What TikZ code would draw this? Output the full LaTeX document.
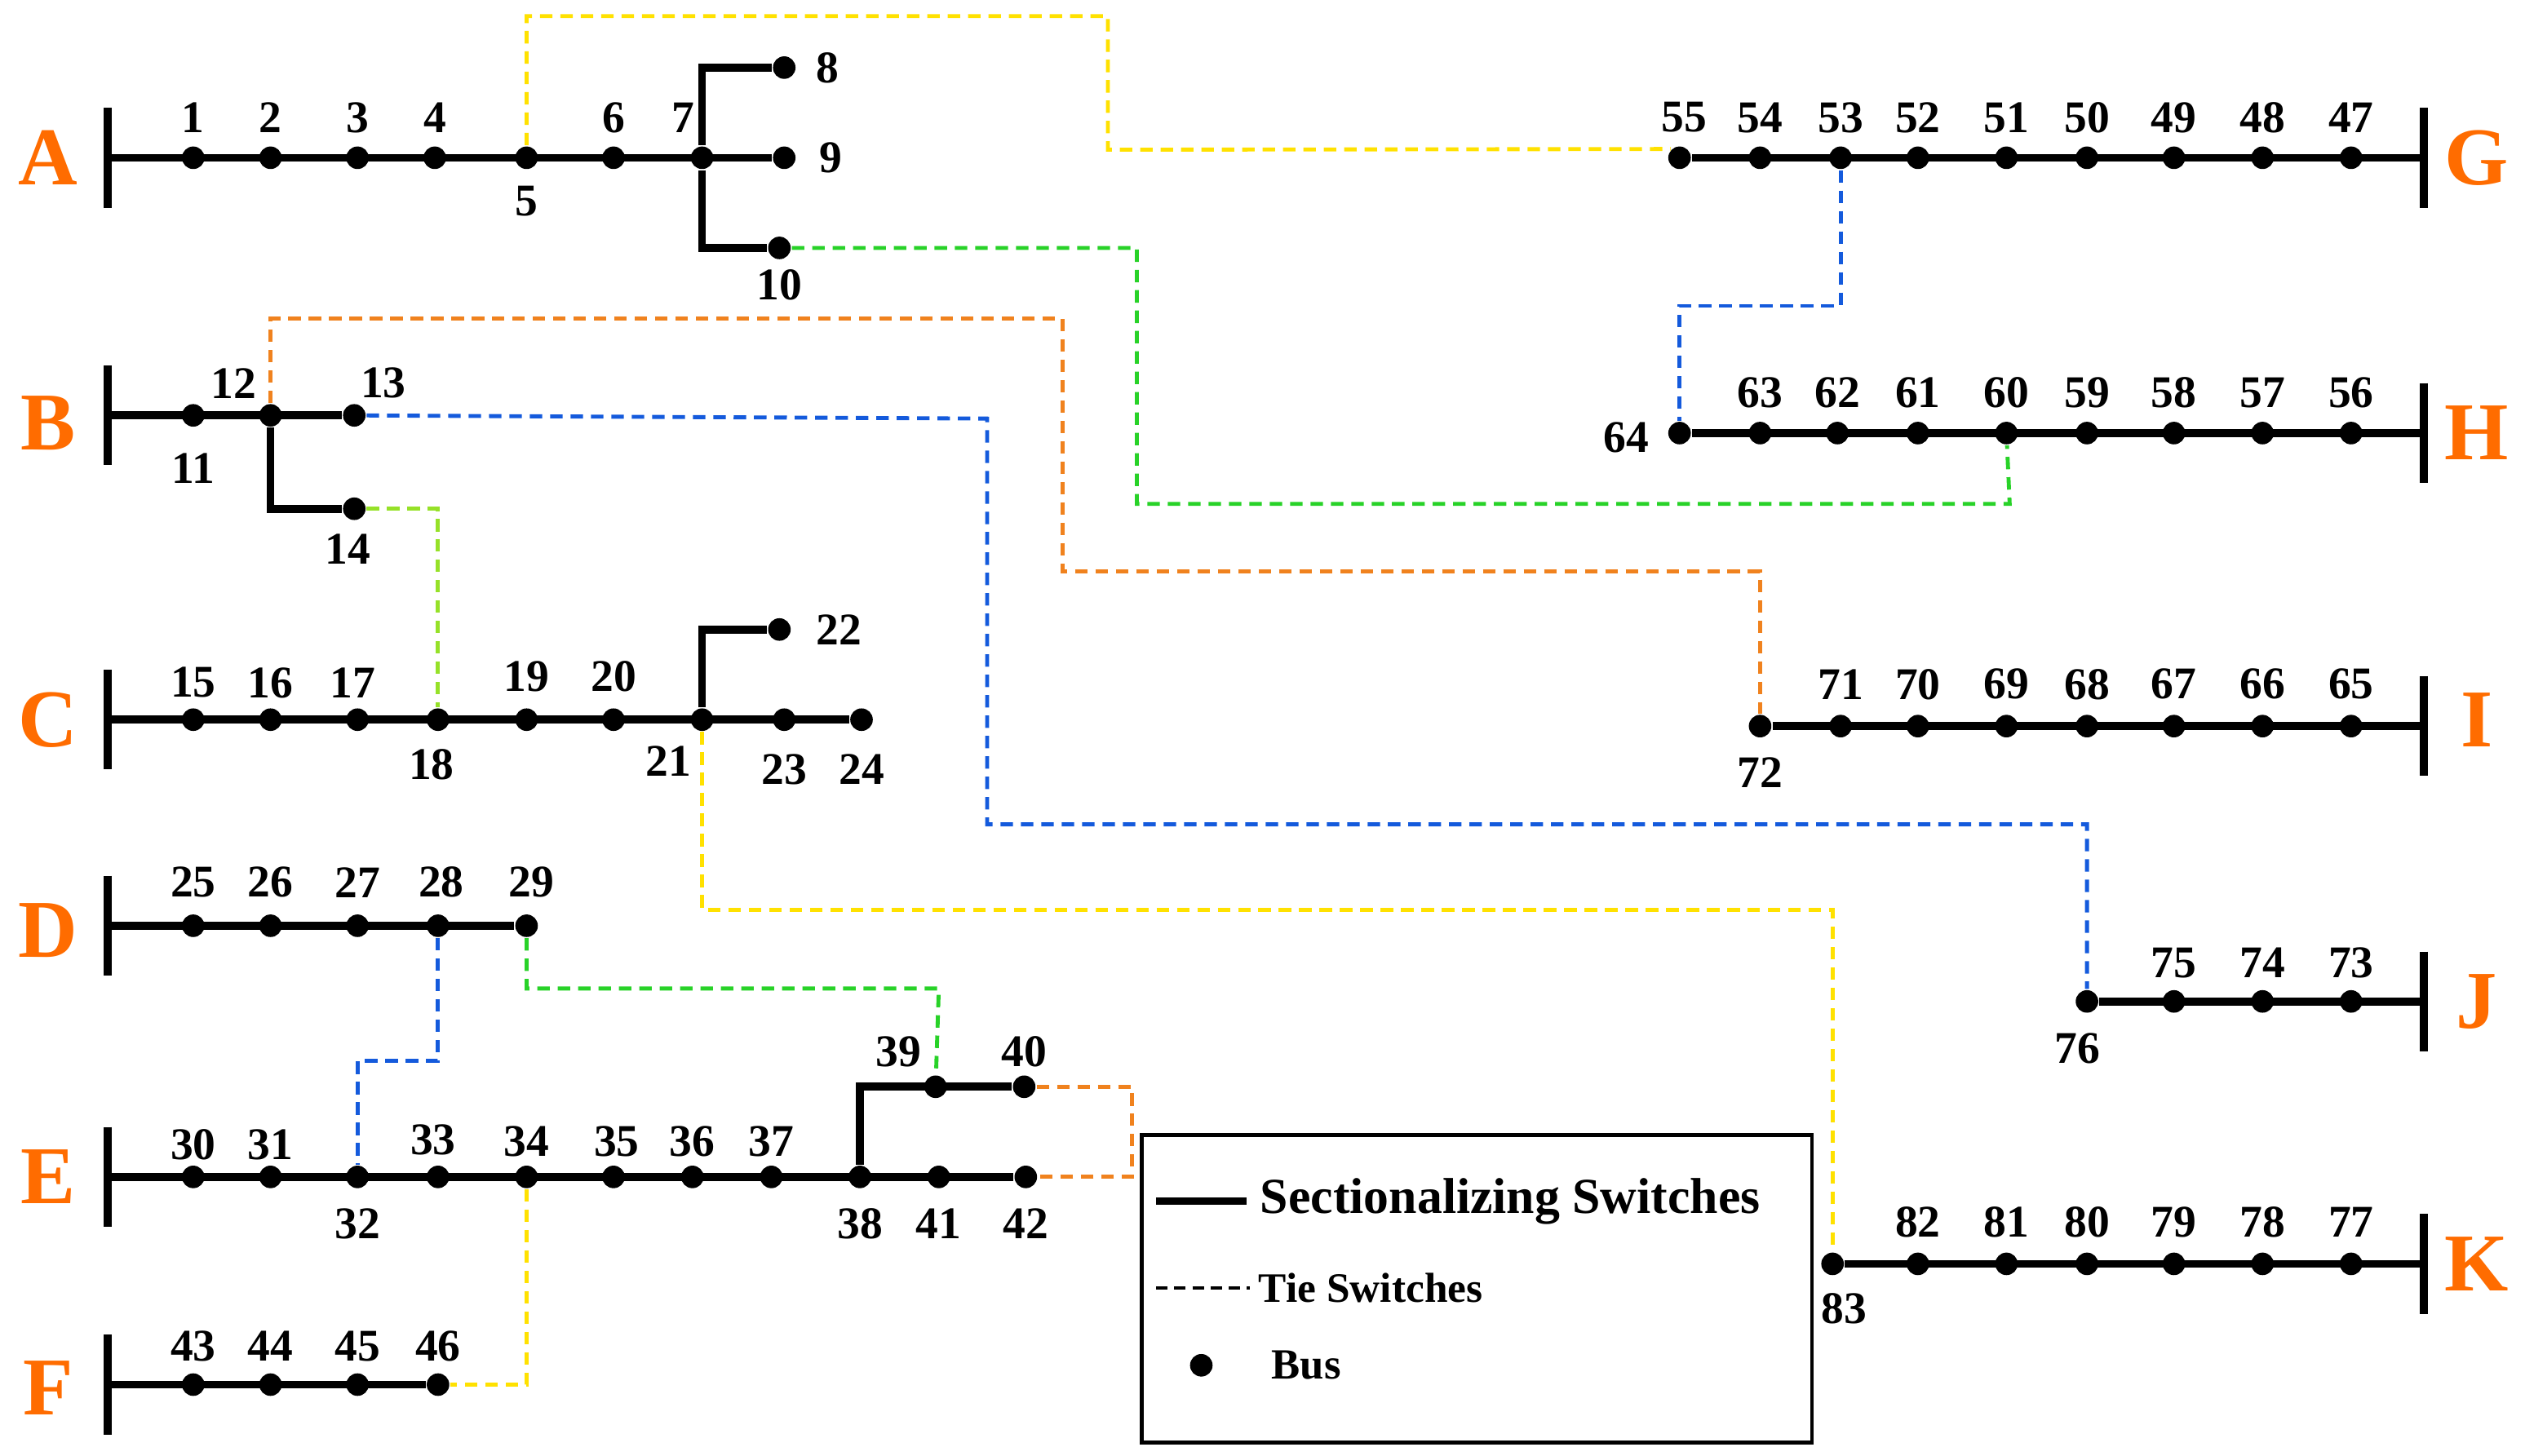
\documentclass[tikz,border=0pt]{standalone}
\usepackage{fontspec}
\setmainfont{Liberation Serif}
\begin{document}
\begin{tikzpicture}[x=0.01cm,y=-0.01cm,
  dot/.style={circle,fill=black,inner sep=0pt,minimum size=0.14cm},
  num/.style={font=\fontsize{8}{8}\selectfont\bfseries,inner sep=0pt},
  fl/.style={font=\fontsize{14.5}{14.5}\selectfont\bfseries,text=orange!85!red,inner sep=0pt},
  sec/.style={line width=1.4pt},
  tie/.style={line width=0.7pt,dash pattern=on 2.2pt off 1.4pt},
  ty/.style={tie,color={rgb,255:red,255;green,225;blue,0}},
  tg/.style={tie,color={rgb,255:red,40;green,210;blue,40}},
  tlg/.style={tie,color={rgb,255:red,150;green,225;blue,40}},
  to/.style={tie,color={rgb,255:red,240;green,130;blue,30}},
  tb/.style={tie,color={rgb,255:red,20;green,90;blue,220}}]
\useasboundingbox (0,0) rectangle (1568,904);
% bars
\foreach \n/\x/\y in {bA/67/98,bB/67/258,bC/67/447,bD/67/575,bE/67/731,bF/67/860,bG/1505/98,bH/1505/269,bI/1505/451,bJ/1505/622,bK/1505/785}
  \draw[sec] (\x,\y-31) -- (\x,\y+31) coordinate[pos=0.5] (\n);
\foreach \l/\x/\y in {A/30/98,B/30/263,C/30/447,D/30/578,E/30/731,F/30/862,G/1538/98,H/1538/269,I/1538/447,J/1538/622,K/1538/785}
  \node[fl] (L\l) at (\x,\y) {\l};
% buses: name/x/y/label-dx/label-dy
\foreach \n/\x/\y/\dx/\dy in {
 1/120/98/0/-25,2/168/98/0/-25,3/222/98/0/-25,4/270/98/0/-25,5/327/98/0/27,6/381/98/0/-25,7/436/98/-12/-25,8/487/42/27/0,9/487/98/29/0,10/484/154/0/23,
 11/120/258/0/33,12/168/258/-23/-20,13/220/258/18/-20,14/220/316/-4/25,
 15/120/447/0/-23,16/168/447/0/-23,17/222/447/-3/-23,18/272/447/-4/28,19/327/447/0/-27,20/381/447/0/-27,21/436/447/-21/26,22/484/391/37/0,23/487/447/0/31,24/535/447/0/31,
 25/120/575/0/-27,26/168/575/0/-27,27/222/575/0/-27,28/272/575/2/-27,29/327/575/3/-27,
 30/120/731/0/-20,31/168/731/0/-20,32/222/731/0/29,33/272/731/-3/-23,34/327/731/0/-22,35/381/731/2/-22,36/430/731/0/-22,37/479/731/0/-22,38/534/731/0/29,39/581/675/-23/-22,40/636/675/0/-22,41/583/731/0/29,42/637/731/0/29,
 43/120/860/0/-24,44/168/860/0/-24,45/222/860/0/-24,46/272/860/0/-24,
 47/1460/98/0/-25,48/1405/98/0/-25,49/1350/98/0/-25,50/1296/98/0/-25,51/1246/98/0/-25,52/1191/98/0/-25,53/1143/98/0/-25,54/1093/98/0/-25,55/1043/98/3/-25,
 56/1460/269/0/-25,57/1405/269/0/-25,58/1350/269/0/-25,59/1296/269/0/-25,60/1246/269/0/-25,61/1191/269/0/-25,62/1141/269/0/-25,63/1093/269/0/-25,64/1043/269/-33/3,
 65/1460/451/0/-26,66/1405/451/0/-26,67/1350/451/0/-26,68/1296/451/0/-26,69/1246/451/0/-26,70/1191/451/0/-26,71/1143/451/0/-26,72/1093/451/0/29,
 73/1460/622/0/-24,74/1405/622/0/-24,75/1350/622/0/-24,76/1296/622/-6/29,
 77/1460/785/0/-26,78/1405/785/0/-26,79/1350/785/0/-26,80/1296/785/0/-26,81/1246/785/0/-26,82/1191/785/0/-26,83/1138/785/7/28}
{
  \node[dot] (b\n) at (\x,\y) {};
  \node[num] (t\n) at (\x+\dx,\y+\dy) {\n};
}
% sectionalizing lines
\draw[sec] (bA) -- (b9);
\draw[sec] (b8) -| (b7) |- (b10);
\draw[sec] (bB) -- (b13);
\draw[sec] (b12) |- (b14);
\draw[sec] (bC) -- (b24);
\draw[sec] (b21) |- (b22);
\draw[sec] (bD) -- (b29);
\draw[sec] (bE) -- (b42);
\draw[sec] (b38) |- (b40);
\draw[sec] (bF) -- (b46);
\draw[sec] (b55) -- (bG);
\draw[sec] (b64) -- (bH);
\draw[sec] (b72) -- (bI);
\draw[sec] (b76) -- (bJ);
\draw[sec] (b83) -- (bK);
% tie switches
\draw[ty] (b5) -- (327,10) -- (688,10) -- (688,93) -- (b55.north west);
\draw[tg] (b10) -- (706,154) -- (706,313) -- (1248,313) -- (b60);
\draw[to] (b12) -- (168,198) -- (660,198) -- (660,355) -- (1093,355) -- (b72);
\draw[tb] (b13) -- (613,260) -- (613,512) -- (1296,512) -- (b76);
\draw[tb] (b53) -- (1143,190) -- (1043,190) -- (b64);
\draw[tlg] (b14) -- (272,316) -- (b18);
\draw[ty] (b21) -- (436,565) -- (1138,565) -- (b83);
\draw[tb] (b28) -- (272,659) -- (222,659) -- (b32);
\draw[tg] (b29) -- (327,614) -- (583,614) -- (b39);
\draw[to] (b40) -- (703,675) -- (703,731) -- (b42);
\draw[ty] (b34) -- (327,860) -- (b46);
% legend
\draw[line width=0.6pt] (709,705) rectangle (1125,896) coordinate (legend);
\coordinate (l1a) at (718,746); \coordinate (l1b) at (774,746);
\draw[sec] (l1a) -- (l1b);
\node[anchor=west,font=\fontsize{8.9}{8.9}\selectfont\bfseries,inner sep=0pt] (lt1) at (782,746) {Sectionalizing Switches};
\coordinate (l2a) at (718,800); \coordinate (l2b) at (776,800);
\draw[line width=0.6pt,dash pattern=on 2pt off 1.2pt] (l2a) -- (l2b);
\node[anchor=west,font=\fontsize{7.4}{7.4}\selectfont\bfseries,inner sep=0pt] (lt2) at (781,800) {Tie Switches};
\node[dot] (ld) at (746,848) {};
\node[anchor=west,font=\fontsize{7.6}{7.6}\selectfont\bfseries,inner sep=0pt] (lt3) at (789,848) {Bus};
\end{tikzpicture}
\end{document}
